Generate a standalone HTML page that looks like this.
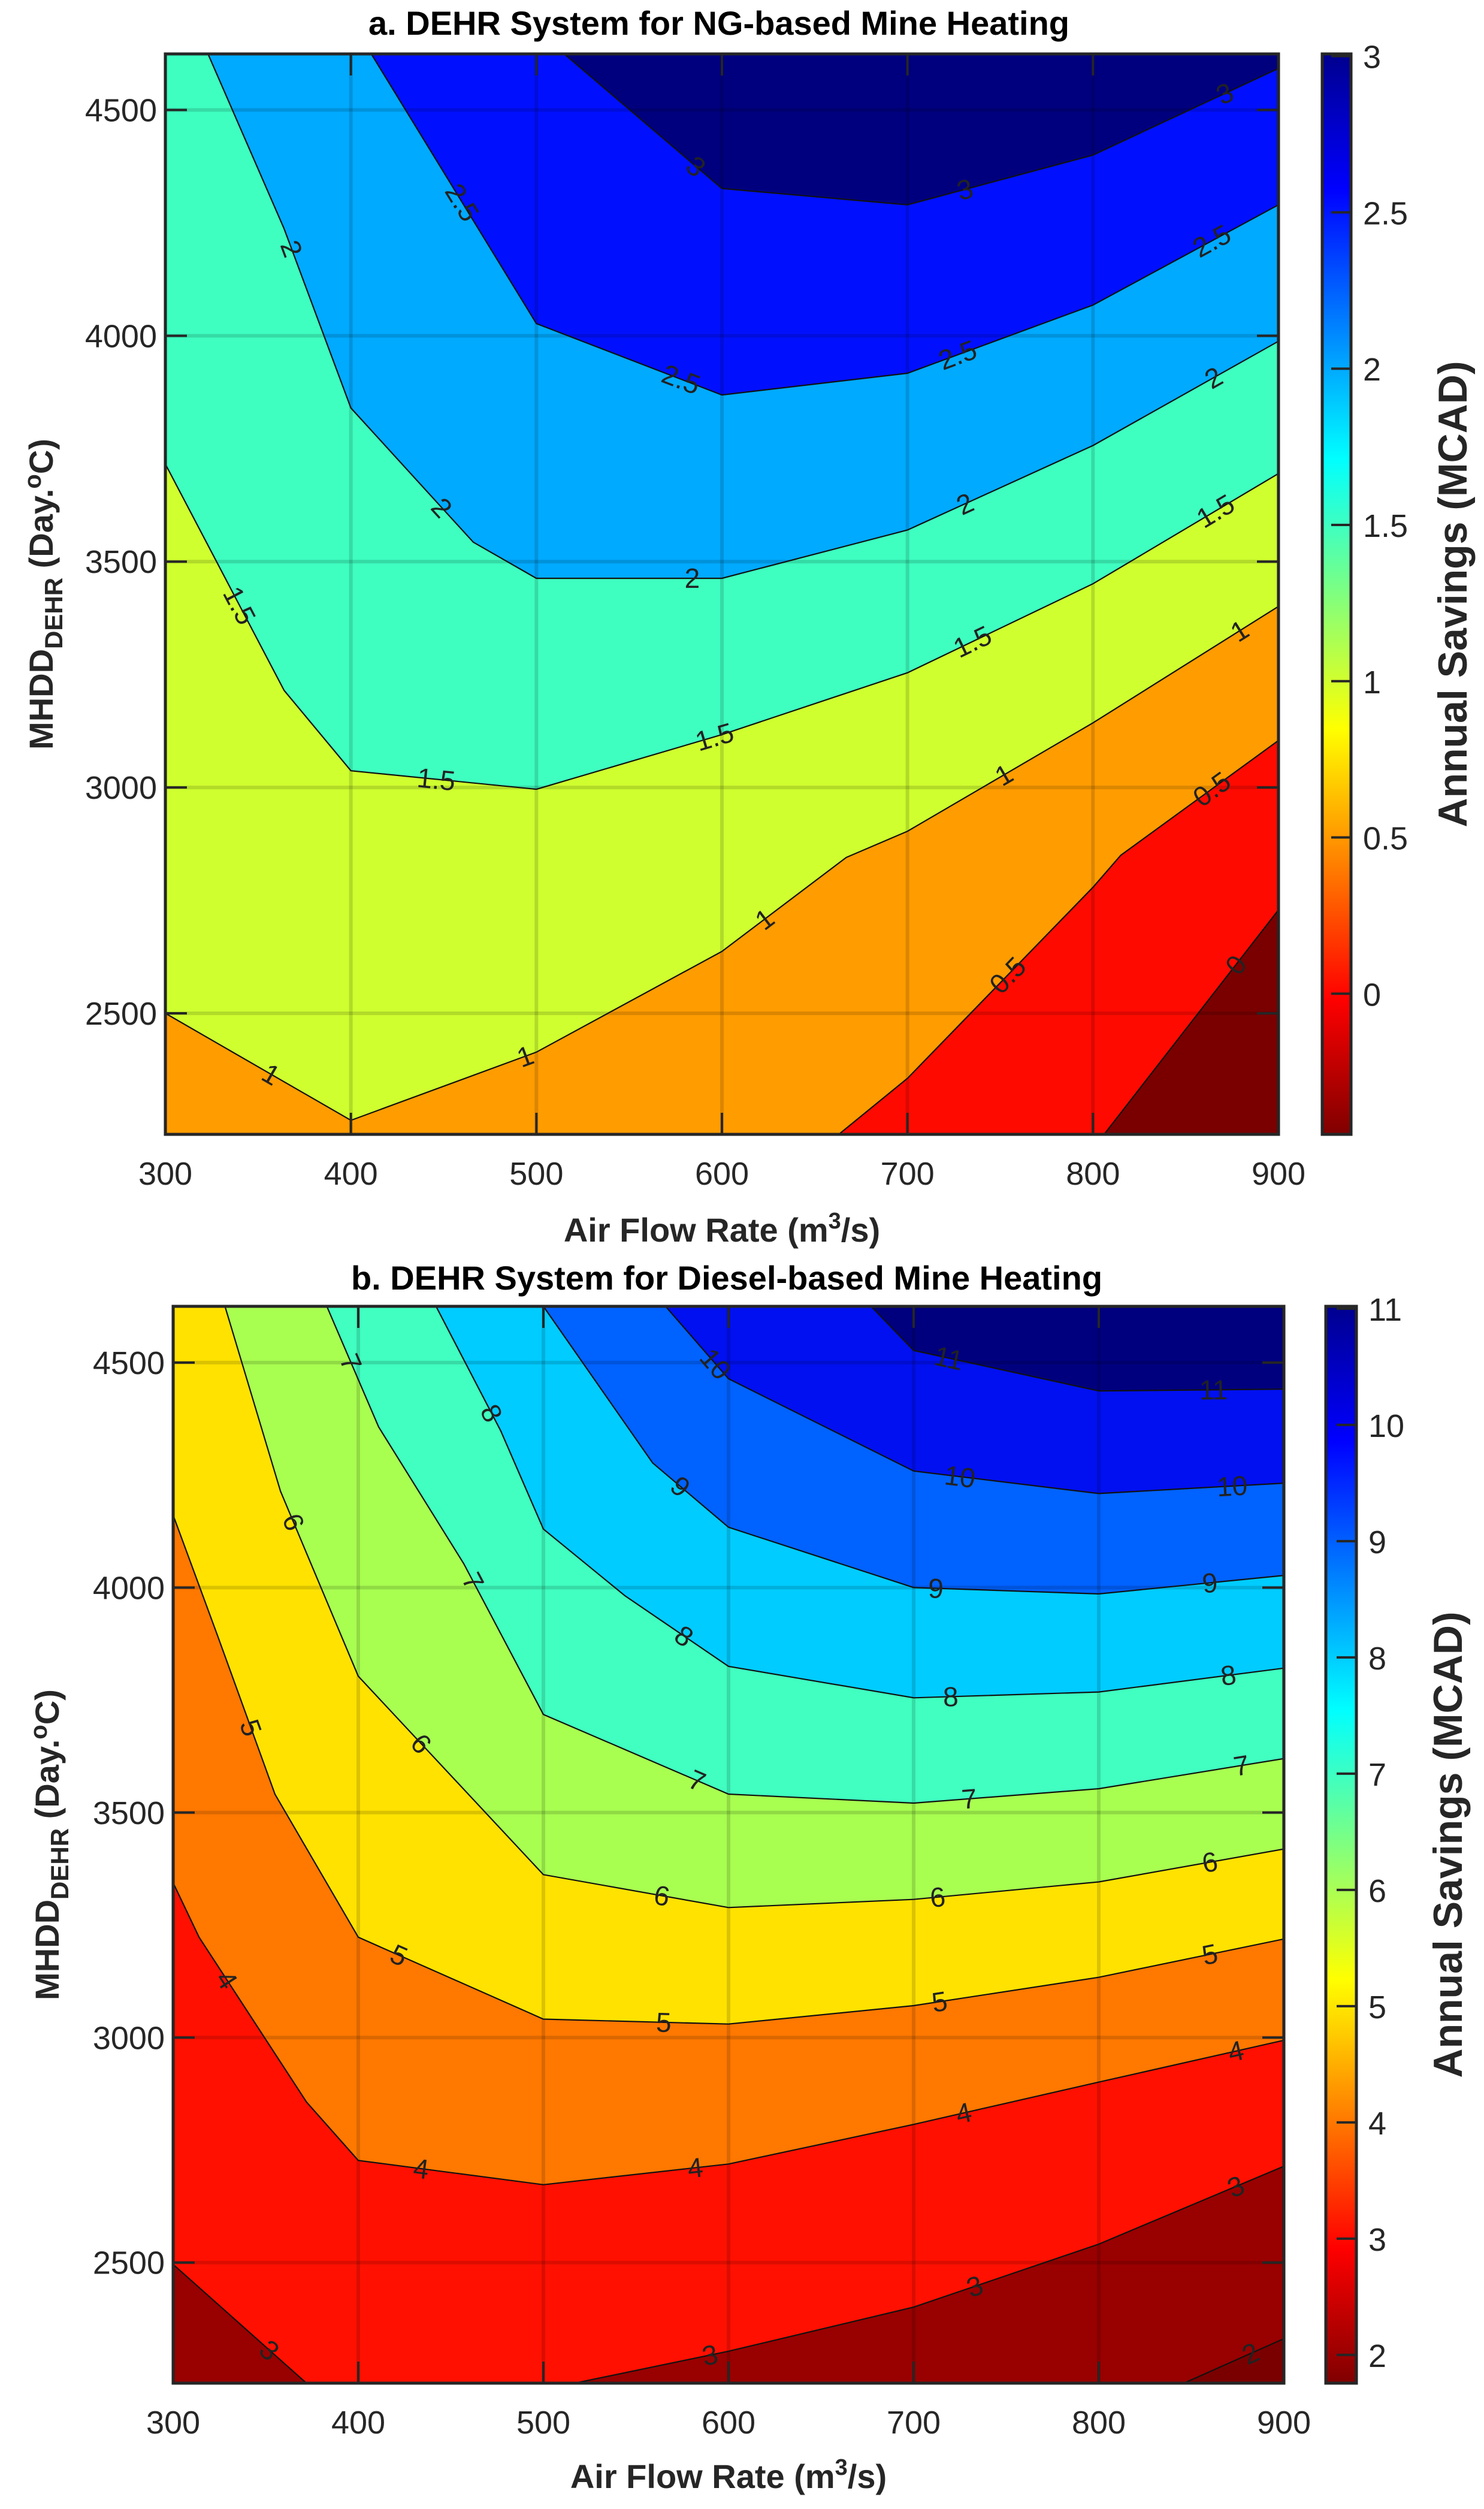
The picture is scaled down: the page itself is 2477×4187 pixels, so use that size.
<!DOCTYPE html>
<html><head><meta charset="utf-8"><style>
html,body{margin:0;padding:0;background:#fff;width:2477px;height:4187px;overflow:hidden;}
svg{display:block;font-family:"Liberation Sans",Arial,sans-serif;}
</style></head><body>
<svg id="fig" xmlns="http://www.w3.org/2000/svg" width="2477" height="4187" viewBox="0 0 2477 4187">
<defs>
<linearGradient id="jet" x1="0" y1="1" x2="0" y2="0">
<stop offset="0" stop-color="#800000"/><stop offset="0.125" stop-color="#ff0000"/>
<stop offset="0.375" stop-color="#ffff00"/><stop offset="0.625" stop-color="#00ffff"/>
<stop offset="0.875" stop-color="#0000ff"/><stop offset="1" stop-color="#00008f"/>
</linearGradient>
</defs>
</svg>
<script>
// ---- Panel A data (NG) ----
const xTicks = [300,400,500,600,700,800,900];
const yTicks = [2500,3000,3500,4000,4500];
const levelsA = [0,0.5,1,1.5,2,2.5,3];
const bandColorsA = ["#7a0000","#ff0a00","#ff9c00","#cfff2f","#3effc0","#00aaff","#0010ff","#00007f"];
const cbTicksA = [0,0.5,1,1.5,2,2.5,3];
const cbTickLabelsA = ["0","0.5","1","1.5","2","2.5","3"];
const contA_0 = [[300,1000],[700,1700],[806,2232],[900,2729]];
const contA_05 = [[300,900],[600,2021],[663,2232],[700,2356],[800,2779],[815,2850],[900,3104]];
const contA_1 = [[300,2500],[400,2263],[500,2414],[600,2637],[667,2845],[700,2903],[800,3143],[900,3401]];
const contA_15 = [[300,3716],[364,3215],[400,3037],[500,2996],[600,3117],[700,3254],[800,3451],[900,3695]];
const contA_2 = [[300,4840],[323,4624],[364,4237],[400,3840],[466,3543],[500,3463],[600,3463],[700,3570],[800,3757],[900,3988]];
const contA_25 = [[300,5300],[411,4624],[500,4027],[600,3869],[700,3917],[800,4068],[900,4290]];
const contA_3 = [[300,5200],[515,4624],[600,4326],[700,4290],[800,4400],[900,4592]];
const labelsA_x = [586,731,871, 460,578,727,864, 368,449,584,731,865, 340,446,596,735,866, 357,494,623,752,879, 754,864, 877];
const labelsA_lev = [6,6,6, 5,5,5,5, 4,4,4,4,4, 3,3,3,3,3, 2,2,2,2,2, 1,1, 0];
// ---- Panel B data (Diesel) ----
const levelsB = [2,3,4,5,6,7,8,9,10,11];
const bandColorsB = ["#7a0000","#990000","#ff1000","#ff7800","#ffe200","#a8ff50","#40ffc0","#00ccff","#0062ff","#0010f0","#00007f"];
const cbTicksB = [2,3,4,5,6,7,8,9,10,11];
const cbTickLabelsB = ["2","3","4","5","6","7","8","9","10","11"];
const contB_2 = [[300,1000],[800,2140],[846,2232],[900,2331]];
const contB_3 = [[300,2496],[372,2232],[450,2100],[517,2232],[600,2303],[700,2401],[800,2541],[900,2714]];
const contB_4 = [[300,3344],[314,3223],[372,2857],[400,2727],[500,2673],[600,2719],[700,2807],[800,2901],[900,2994]];
const contB_5 = [[300,4161],[324,3893],[355,3541],[400,3223],[500,3041],[600,3030],[700,3071],[800,3134],[900,3219]];
const contB_6 = [[300,5008],[328,4625],[358,4214],[400,3803],[500,3362],[600,3289],[700,3307],[800,3346],[900,3419]];
const contB_7 = [[300,5400],[383,4625],[411,4357],[457,4053],[500,3718],[600,3541],[700,3521],[800,3553],[900,3620]];
const contB_8 = [[300,5600],[442,4625],[477,4348],[500,4130],[544,3982],[600,3825],[700,3755],[800,3768],[900,3821]];
const contB_9 = [[300,5800],[500,4625],[559,4277],[600,4134],[700,4000],[800,3986],[900,4027]];
const contB_10 = [[300,6000],[566,4625],[600,4464],[700,4259],[800,4209],[900,4232]];
const contB_11 = [[300,6200],[677,4625],[700,4527],[800,4437],[900,4441]];
const labelsB_x = [719,862, 593,725,872, 574,712,860, 472,576,720,870, 396,462,583,730,877, 365,434,564,713,860, 342,422,565,714,860, 329,434,582,727,874, 352,590,733,874, 882];
const labelsB_lev = [9,9, 8,8,8, 7,7,7, 6,6,6,6, 5,5,5,5,5, 4,4,4,4,4, 3,3,3,3,3, 2,2,2,2,2, 1,1,1,1, 0];

const NS = "http://www.w3.org/2000/svg";
const svg = document.getElementById('fig');
function mk(tag, attrs, parent){const e=document.createElementNS(NS,tag);for(const k in attrs)e.setAttribute(k,attrs[k]);(parent||svg).appendChild(e);return e;}
function fmt(v){return String(v);}

function drawPanel(P){
  const g = mk('g',{});
  
  
  const sx = v => P.x0 + (v-300)/600*(P.x1-P.x0);
  const sy = v => P.y1 - (v-P.ymin)/(P.ymax-P.ymin)*(P.y1-P.y0);
  const cyc = v => Math.max(P.y0-4, Math.min(P.y1+4, sy(v)));
  const clipId = 'clip'+P.id;
  const cp = mk('clipPath',{id:clipId},g);
  mk('rect',{x:P.x0,y:P.y0,width:P.x1-P.x0,height:P.y1-P.y0},cp);
  const plot = mk('g',{'clip-path':'url(#'+clipId+')'},g);
  const bg = mk('rect',{x:P.x0,y:P.y0,width:P.x1-P.x0,height:P.y1-P.y0,fill:P.colors[0]},plot);
  
  
  P.conts.forEach((c,i)=>{
    let pts = c.map(p=>sx(p[0]).toFixed(1)+','+cyc(p[1]).toFixed(1));
    pts.push(P.x1+','+(P.y0-4)); pts.push(P.x0+','+(P.y0-4));
    pts.unshift(P.x0+','+cyc(c[0][1]).toFixed(1));
    const poly = mk('polygon',{points:pts.join(' '),fill:P.colors[i+1]},plot);
    
    
  });
  xTicks.forEach(t=>{const l=mk('line',{x1:sx(t),x2:sx(t),y1:P.y0,y2:P.y1,stroke:'rgba(0,0,0,0.14)','stroke-width':6},plot);
     });
  yTicks.forEach(t=>{const l=mk('line',{x1:P.x0,x2:P.x1,y1:sy(t),y2:sy(t),stroke:'rgba(0,0,0,0.14)','stroke-width':6},plot);
     });
  P.conts.forEach((c,i)=>{
    const pl = mk('polyline',{points:c.map(p=>sx(p[0]).toFixed(1)+','+cyc(p[1]).toFixed(1)).join(' '),fill:'none',stroke:'#111','stroke-width':2.2},plot);
    
    
  });
  P.labX.forEach((xv,k)=>{
    const li = P.labL[k]; const c = P.conts[li];
    let yv=null, ang=0;
    for(let j=0;j<c.length-1;j++){ if(xv>=c[j][0] && xv<=c[j+1][0]){
      const t=(xv-c[j][0])/(c[j+1][0]-c[j][0]); yv=c[j][1]+t*(c[j+1][1]-c[j][1]);
      ang=Math.atan2(sy(c[j+1][1])-sy(c[j][1]), sx(c[j+1][0])-sx(c[j][0]))*180/Math.PI; break;}}
    if(yv===null) return;
    const px=sx(xv), py=sy(yv);
    const t = mk('text',{x:px,y:py+16,'font-size':46,fill:'#222','text-anchor':'middle',transform:'rotate('+ang.toFixed(1)+' '+px.toFixed(1)+' '+py.toFixed(1)+')'},plot);
    t.textContent = fmt(P.levels[li]);
    
    
  });
  xTicks.forEach(t=>{
    mk('line',{x1:sx(t),x2:sx(t),y1:P.y1,y2:P.y1-36,stroke:'#262626','stroke-width':4},g);
    mk('line',{x1:sx(t),x2:sx(t),y1:P.y0,y2:P.y0+36,stroke:'#262626','stroke-width':4},g);
    const tx = mk('text',{x:sx(t),y:P.y1+84,'font-size':54,fill:'#262626','text-anchor':'middle'},g);
    tx.textContent=t;
    
    
  });
  yTicks.forEach(t=>{
    mk('line',{x1:P.x0,x2:P.x0+36,y1:sy(t),y2:sy(t),stroke:'#262626','stroke-width':4},g);
    mk('line',{x1:P.x1,x2:P.x1-36,y1:sy(t),y2:sy(t),stroke:'#262626','stroke-width':4},g);
    const tx = mk('text',{x:P.x0-14,y:sy(t)+19,'font-size':54,fill:'#262626','text-anchor':'end'},g);
    tx.textContent=t;
    
    
  });
  const fr = mk('rect',{x:P.x0,y:P.y0,width:P.x1-P.x0,height:P.y1-P.y0,fill:'none',stroke:'#262626','stroke-width':5},g);
   
  const ti = mk('text',{x:P.titleX,y:P.titleY,'font-size':56,'font-weight':'bold','text-anchor':'middle',fill:'#000'},g);
  ti.textContent=P.title;  
  const xl = mk('text',{x:(P.x0+P.x1)/2,y:P.xlabY,'font-size':56,'font-weight':'bold','text-anchor':'middle',fill:'#262626'},g);
  xl.innerHTML='Air Flow Rate (m<tspan dy="-22" font-size="38">3</tspan><tspan dy="22">/s)</tspan>';
   
  const cy=(P.y0+P.y1)/2;
  const yl = mk('text',{x:0,y:0,'font-size':56,'font-weight':'bold','text-anchor':'middle',fill:'#262626',transform:'translate('+P.ylabX+','+cy+') rotate(-90)'},g);
  yl.innerHTML='MHDD<tspan dy="16" font-size="42">DEHR</tspan><tspan dy="-16"> (Day.</tspan><tspan dy="-20" font-size="40">o</tspan><tspan dy="20">C)</tspan>';
   
  const cb = mk('g',{},g);
   
  const cby = v => P.y1 - (v-P.cmin)/(P.cmax-P.cmin)*(P.y1-P.y0);
  mk('rect',{x:P.cbx0,y:P.y0,width:P.cbx1-P.cbx0,height:P.y1-P.y0,fill:'url(#jet)',stroke:'#262626','stroke-width':5},cb);
  P.cbTicks.forEach((t,k)=>{
    mk('line',{x1:P.cbx1,x2:P.cbx1-33,y1:cby(t),y2:cby(t),stroke:'#262626','stroke-width':4},cb);
    const tx=mk('text',{x:P.cbx1+20,y:cby(t)+20,'font-size':54,fill:'#262626'},cb);
    tx.textContent=P.cbLabels[k];
     
  });
  const ct = mk('text',{x:0,y:0,'font-size':68,'font-weight':'bold','text-anchor':'middle',fill:'#262626',transform:'translate('+P.cbTitleX+','+cy+') rotate(-90)'},cb);
  ct.textContent='Annual Savings (MCAD)';
   
}

drawPanel({id:'a',x0:276,x1:2134,y0:90,y1:1893,ymin:2232,ymax:4624,
  levels:levelsA,colors:bandColorsA,conts:[contA_0,contA_05,contA_1,contA_15,contA_2,contA_25,contA_3],
  labX:labelsA_x,labL:labelsA_lev,cmin:-0.45,cmax:3.007,cbTicks:cbTicksA,cbLabels:cbTickLabelsA,
  cbx0:2207,cbx1:2255,title:'a. DEHR System for NG-based Mine Heating',titleX:1200,titleY:58,
  xlabY:2072,ylabX:88,cbTitleX:2448});
drawPanel({id:'b',x0:289,x1:2143,y0:2180,y1:3977,ymin:2232,ymax:4625,
  levels:levelsB,colors:bandColorsB,conts:[contB_2,contB_3,contB_4,contB_5,contB_6,contB_7,contB_8,contB_9,contB_10,contB_11],
  labX:labelsB_x,labL:labelsB_lev,cmin:1.757,cmax:11.02,cbTicks:cbTicksB,cbLabels:cbTickLabelsB,
  cbx0:2213,cbx1:2264,title:'b. DEHR System for Diesel-based Mine Heating',titleX:1213,titleY:2152,
  xlabY:4152,ylabX:98,cbTitleX:2440});
</script>
</body></html>
